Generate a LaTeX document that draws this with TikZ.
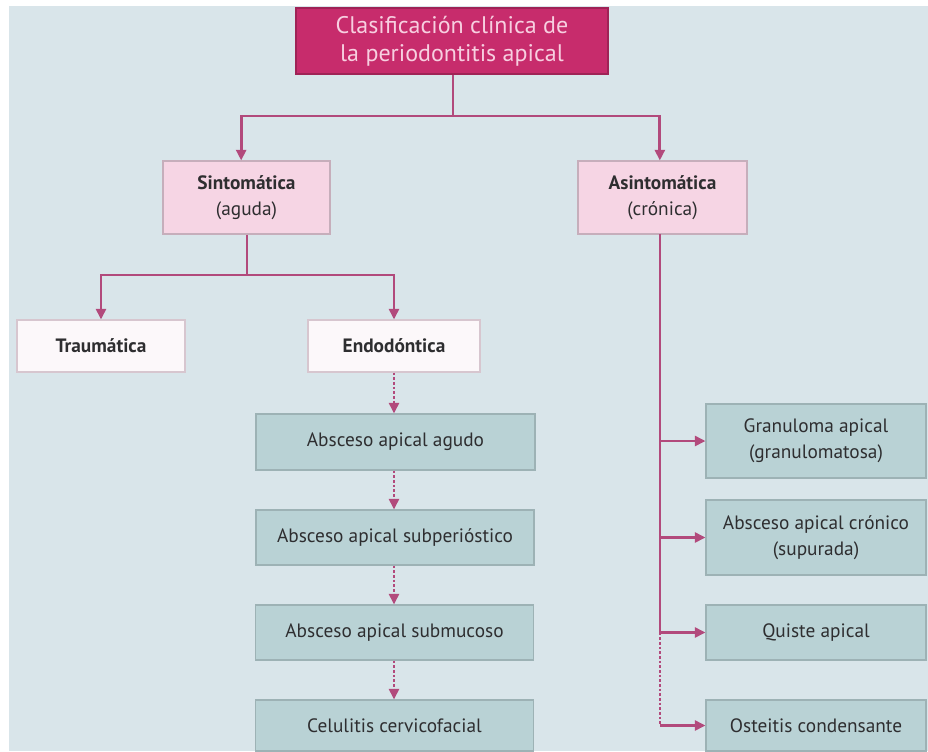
\documentclass[tikz,border=0pt]{standalone}
\usepackage{fontspec}
\setmainfont{PT Sans}
\usetikzlibrary{arrows.meta}
\definecolor{fondo}{HTML}{D9E5EA}
\definecolor{magenta}{HTML}{C72C6C}
\definecolor{rosatxt}{HTML}{F7CFE0}
\definecolor{rosa}{HTML}{F6D5E4}
\definecolor{blanco}{HTML}{FCF8FA}
\definecolor{verde}{HTML}{B9D2D5}
\definecolor{borde}{HTML}{C6AEBB}
\definecolor{linea}{HTML}{B24A7C}
\definecolor{texto}{HTML}{2E2E30}
\begin{document}
\begin{tikzpicture}[x=0.75pt,y=-0.75pt,
    caja/.style={rectangle,inner sep=0pt,align=center,line width=0.8pt,
        font=\fontsize{14.5}{19.5}\selectfont,text=texto},
    cajaroot/.style={caja,fill=magenta,draw=magenta!80!black,text=rosatxt,
        font=\fontsize{18}{21}\selectfont},
    cajarosa/.style={caja,fill=rosa,draw=borde},
    cajablanca/.style={caja,fill=blanco,draw=borde!70},
    cajaverde/.style={caja,fill=verde,draw=verde!85!black},
    enlace/.style={draw=linea,line width=2.1pt},
    punteado/.style={dash pattern=on 2pt off 1.5pt},
    flecha/.style={enlace,-{Triangle[length=8pt,width=7.5pt]}}]
    \useasboundingbox (0,0) rectangle (928,751);
    \fill[fondo] (9,6) rectangle (928,751);
    % --- raiz y primer nivel ---
    \node[cajaroot,minimum width=234pt,minimum height=49.5pt] (raiz) at (452,41)
        {Clasificación clínica de\\la periodontitis apical};
    \node[cajarosa,minimum width=125.25pt,minimum height=54.75pt] (sint) at (246.5,197.5)
        {\textbf{Sintomática}\\(aguda)};
    \node[cajarosa,minimum width=126.75pt,minimum height=54.75pt] (asint) at (662.5,197.5)
        {\textbf{Asintomática}\\(crónica)};
    % --- rama sintomatica ---
    \node[cajablanca,minimum width=126pt,minimum height=39pt] (traum) at (101,346)
        {\textbf{Traumática}};
    \node[cajablanca,minimum width=129pt,minimum height=39pt] (endo) at (394,346)
        {\textbf{Endodóntica}};
    \node[cajaverde,minimum width=209.25pt,minimum height=42pt] (agudo) at (395.5,442)
        {Absceso apical agudo};
    \node[cajaverde,minimum width=208.5pt,minimum height=41.25pt] (subper) at (395,537.5)
        {Absceso apical subperióstico};
    \node[cajaverde,minimum width=208.5pt,minimum height=41.25pt] (submuc) at (394.5,632.5)
        {Absceso apical submucoso};
    \node[cajaverde,minimum width=208.5pt,minimum height=38.25pt] (celul) at (394.5,725.5)
        {Celulitis cervicofacial};
    % --- rama asintomatica ---
    \node[cajaverde,minimum width=165pt,minimum height=55.5pt] (granul) at (816,441)
        {Granuloma apical\\(granulomatosa)};
    \node[cajaverde,minimum width=165pt,minimum height=56.25pt] (cronico) at (816,537.5)
        {Absceso apical crónico\\(supurada)};
    \node[cajaverde,minimum width=165pt,minimum height=41.25pt] (quiste) at (816,632.5)
        {Quiste apical};
    \node[cajaverde,minimum width=165pt,minimum height=38.25pt] (osteit) at (816,725.5)
        {Osteitis condensante};
    % --- conectores ---
    \coordinate (div1) at (453,116);
    \coordinate (div2) at (247,275);
    \coordinate (tronco) at (660,234);
    \draw[enlace] (raiz.south -| div1) -- (div1);
    \draw[flecha] (div1) -| ([xshift=-4pt]sint.north);
    \draw[flecha] (div1) -| ([xshift=-2pt]asint.north);
    \draw[enlace] (sint.south -| div2) -- (div2);
    \draw[flecha] (div2) -| (traum.north);
    \draw[flecha] (div2) -| (endo.north);
    \draw[flecha,punteado] (endo.south) -- (endo.south |- agudo.north);
    \draw[flecha,punteado] (agudo.south -| endo.south) -- (endo.south |- subper.north);
    \draw[flecha,punteado] (subper.south -| endo.south) -- (endo.south |- submuc.north);
    \draw[flecha,punteado] (submuc.south -| endo.south) -- (endo.south |- celul.north);
    \draw[enlace] (tronco) -- (tronco |- quiste.west);
    \draw[enlace,punteado] (tronco |- quiste.west) -- (tronco |- osteit.west);
    \draw[flecha] (tronco |- granul.west) -- (granul.west);
    \draw[flecha] (tronco |- cronico.west) -- (cronico.west);
    \draw[flecha] (tronco |- quiste.west) -- (quiste.west);
    \draw[flecha] (tronco |- osteit.west) -- (osteit.west);
\end{tikzpicture}
\end{document}
